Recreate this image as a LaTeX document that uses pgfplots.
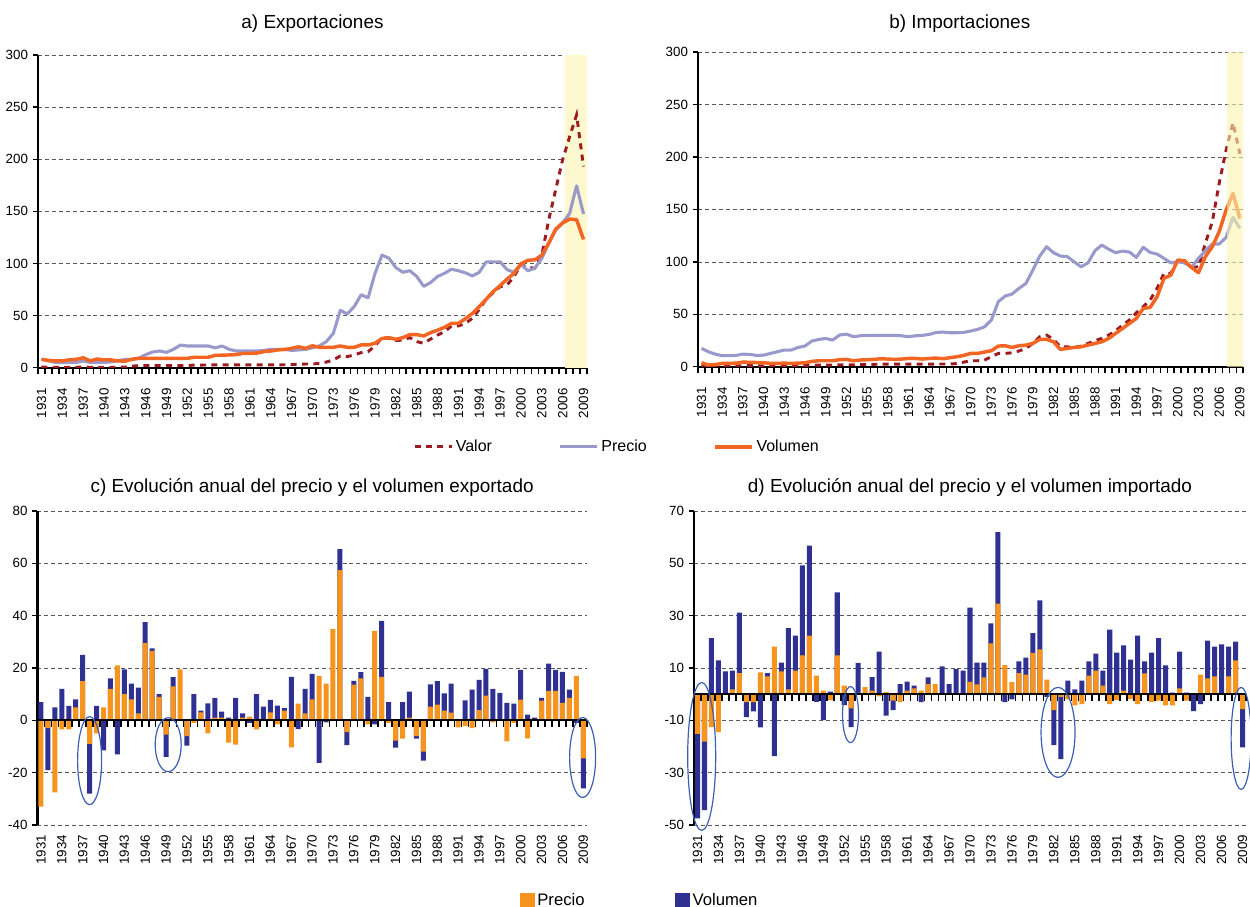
\documentclass[border=0pt]{standalone}
\usepackage{fontspec}
\setmainfont{Liberation Sans}
\usepackage{pgfplots}
\usepackage{pgfplotstable}
\pgfplotsset{compat=1.18}

\definecolor{valor}{RGB}{155,27,32}
\definecolor{precio}{RGB}{153,153,204}
\definecolor{volumen}{RGB}{242,101,34}
\definecolor{barP}{RGB}{247,148,29}
\definecolor{barV}{RGB}{46,49,146}
\definecolor{band}{RGB}{253,248,206}
\definecolor{bandb}{RGB}{252,243,173}
\definecolor{ring}{RGB}{60,95,180}

% a) exportaciones: valor, precio, volumen (indices)
\pgfplotstableread{
year valor precio volumen
1931 0.5 8 8
1932 0.4 6.5 7
1933 0.4 5 6.5
1934 0.4 4.8 6.5
1935 0.4 5 7.5
1936 0.4 5 8
1937 0.5 6.4 9.5
1938 0.4 5 6.5
1939 0.4 5 8.3
1940 0.4 5 7.4
1941 0.4 5.5 7.4
1942 0.4 6.4 6.5
1943 0.5 8 6.2
1944 1.5 8 8
1945 1.8 9 9
1946 2 12.5 9
1947 2 15 9
1948 2 16 9
1949 2 14.7 9
1950 2 17.6 9
1951 2 21.7 9
1952 2 20.8 9
1953 2.5 20.8 10
1954 2.5 20.8 10
1955 2.6 20.8 10
1956 2.6 19 11.8
1957 2.6 20.8 12
1958 2.6 17.6 12.2
1959 2.6 16 12.5
1960 2.6 16 13.7
1961 2.6 16 13.7
1962 2.6 16 14
1963 2.6 16.5 15.4
1964 2.7 17.6 16
1965 2.7 17.6 17
1966 2.8 17.6 17.5
1967 3 16.5 18.5
1968 3.2 17 20
1969 3.5 17.6 18.5
1970 3.6 19 21
1971 4 21 19.5
1972 5.4 25 19.5
1973 7.4 33 19.5
1974 11.2 55 20.8
1975 10.6 51.5 19.5
1976 12.2 58.6 19.5
1977 14.4 70 21.8
1978 15.4 67 21.8
1979 20.8 90.5 23.4
1980 28.8 108 28
1981 28.2 105 28.8
1982 26 96 27.2
1983 26.5 91.5 28.8
1984 28.8 93 31.7
1985 25 87.5 31.7
1986 23.4 78 30.4
1987 27.5 81.7 33.6
1988 31.3 87.5 36
1989 34.5 90.5 38.7
1990 40 94.5 42.5
1991 40 93 42.5
1992 42.5 91 47
1993 47.3 88 52
1994 56 91.5 58.6
1995 65.7 101.5 65.7
1996 72 101.5 73
1997 77.7 101.5 78.8
1998 79.3 94 85
1999 87.5 91.5 90.5
2000 99 99 99.7
2001 96 93 103
2002 95.5 95.5 103.5
2003 108 105 108
2004 142 119.5 119.5
2005 171 132 133
2006 199.7 139 138.8
2007 221.6 148 142.6
2008 242.5 174.5 142
2009 193 147.5 123
}\expA

% b) importaciones
\pgfplotstableread{
year valor precio volumen
1931 1 17.5 3.8
1932 0.8 14.3 1.6
1933 0.7 12 2
1934 0.8 10.5 3.2
1935 0.8 10.5 3.2
1936 0.8 10.8 3.4
1937 1 12 4.4
1938 1 11.7 4.2
1939 0.9 10.8 4
1940 0.9 11 3.8
1941 0.9 12.7 3.2
1942 0.9 14.3 3.2
1943 1 15.9 3.4
1944 1 15.9 3.2
1945 1 18.4 3.4
1946 1.2 19.7 3.8
1947 1.6 24.5 5.1
1948 1.6 26 5.7
1949 1.6 27 5.7
1950 1.6 25.4 5.7
1951 1.8 30.2 6.7
1952 2 31.1 7
1953 1.8 28.6 5.7
1954 2 29.5 6.4
1955 2.2 29.9 6.7
1956 2.3 29.9 7
1957 2.5 29.9 7.6
1958 2.5 29.9 7.3
1959 2.5 29.9 7
1960 2.5 29.5 7.3
1961 2.5 28.6 7.9
1962 2.5 29.5 7.9
1963 2.5 29.9 7.3
1964 2.5 30.8 7.9
1965 2.6 32.7 8.3
1966 2.6 33 7.6
1967 2.6 32.4 8.6
1968 3 32.4 9.5
1969 4.4 32.7 10.8
1970 5.7 34 12.7
1971 5.7 35.6 12.7
1972 6.4 38 14
1973 9.5 44.5 15.3
1974 12.7 62 19.7
1975 12.7 67.4 20
1976 13.3 69.3 18.4
1977 15 74.7 20
1978 17.5 79.4 20.6
1979 22.2 92 22.2
1980 28.6 105.5 26
1981 30.2 114.4 26
1982 26 108.7 23.8
1983 19 105.5 16.5
1984 19 105 17.5
1985 18.4 100 18.4
1986 19.7 95.3 19
1987 22.2 99 20.6
1988 24.8 110.6 22.2
1989 27 116 23.8
1990 30.2 112 27
1991 34.3 108.7 31.8
1992 39.7 110.3 36.5
1993 44.5 109.3 41.3
1994 51.5 104.2 46
1995 57.2 113.8 55.6
1996 63.6 109 56.6
1997 74.7 107.4 66.7
1998 89 103.3 84.2
1999 89 99 87.4
2000 101.7 100 101.7
2001 100 99 101
2002 94.7 94.7 94.7
2003 95.3 103.3 89.6
2004 117.6 110.6 104.9
2005 138.2 117 114.4
2006 174.8 117 128.7
2007 206.5 123.3 149.3
2008 232.6 142.4 165.2
2009 203 132 141.4
}\expB

% c) variacion anual exportaciones: precio y extremo de la barra azul
\pgfplotstableread{
year precio vol
1931 -33 7
1932 -3 -19
1933 -27.5 5
1934 -3.5 12
1935 -3.5 5.5
1936 5 8
1937 15 25
1938 -9 -28
1939 -5 5.5
1940 5 -11.5
1941 12 16
1942 21 -13
1943 10 19.5
1944 8 14
1945 2.7 12.5
1946 29.5 37.5
1947 26.5 27.5
1948 9 10
1949 -5.5 -14
1950 13 16.5
1951 19.5 0
1952 -6 -9.7
1953 -1 10
1954 3 3.7
1955 -5 6.5
1956 1 8.6
1957 1 3.3
1958 -8.5 1
1959 -9.3 8.6
1960 1 2.7
1961 1.4 -1
1962 -3.5 10
1963 0 5.2
1964 3 7.8
1965 -1.5 5.6
1966 3.7 4.7
1967 -10.3 16.6
1968 6.4 -3.4
1969 2.7 12
1970 8 17.8
1971 17 -16.3
1972 14 -0.8
1973 35 0
1974 57.4 65.4
1975 -4.5 -9.5
1976 13.6 15.1
1977 16 18.4
1978 -1.5 9
1979 34.2 -1.5
1980 16.6 38
1981 -1 7
1982 -7.8 -10.4
1983 -7 7
1984 1 11
1985 -6 -7
1986 -12 -15.4
1987 5.2 13.7
1988 6 15
1989 3.7 10.3
1990 2.9 14
1991 -2.7 0
1992 -2.2 7.6
1993 -3 11.7
1994 3.9 15.5
1995 9.4 19.7
1996 -0.8 12
1997 0 10.5
1998 -8 6.7
1999 -1 6.4
2000 7.9 19.3
2001 -6.9 2.2
2002 0 1
2003 7.5 8.6
2004 11.3 21.7
2005 11.3 19.3
2006 6.7 18.5
2007 8.6 11.7
2008 17 -1
2009 -14.5 -26
}\expC

% d) variacion anual importaciones
\pgfplotstableread{
year precio vol
1931 -15.2 -47.5
1932 -18.1 -44.3
1933 -12.6 21.4
1934 -14.5 12.9
1935 0 8.7
1936 1.8 9
1937 8 31.2
1938 -3 -8.8
1939 -3 -6.6
1940 8.3 -12.7
1941 6.8 8
1942 18.2 -23.7
1943 8.7 12.1
1944 1.8 25.2
1945 9 22.4
1946 14.8 49.2
1947 22.4 56.8
1948 7.1 -2.9
1949 1.4 -9.9
1950 -2.3 1
1951 14.8 38.9
1952 3.3 -4.2
1953 -5.4 -12.6
1954 0.5 12
1955 2.7 0
1956 1.4 6.5
1957 -0.8 16.3
1958 0.8 -8.2
1959 -2.5 -6.1
1960 -3 3.8
1961 1.4 4.8
1962 2.2 3.3
1963 1.4 -3
1964 3.8 6.4
1965 3.8 0
1966 0 10.6
1967 0 3.8
1968 0 9.6
1969 0 9
1970 4.7 33.1
1971 3.7 12.1
1972 6.4 12.1
1973 19.4 27.1
1974 34.6 61.9
1975 11.1 -3
1976 4.6 -2
1977 8 12.5
1978 7.5 14
1979 15.8 23.3
1980 17.1 35.8
1981 5.6 -1
1982 -6.1 -19.5
1983 -1 -24.8
1984 -2 5.2
1985 -4.3 1.8
1986 -3.8 5.2
1987 7.1 12.5
1988 9 15.5
1989 3.3 9
1990 -3.8 24.7
1991 -2.3 15.9
1992 1.4 18.6
1993 -1.9 13.2
1994 -3.8 22.4
1995 7.9 12.5
1996 -3 15.9
1997 -2.5 21.4
1998 -4.3 11
1999 -4.3 0.6
2000 2.2 16.3
2001 -2.5 0.6
2002 0 -6.5
2003 7.5 -3.8
2004 6 20.5
2005 6.8 18.2
2006 0 19
2007 6.8 18.2
2008 12.9 20.1
2009 -5.7 -20.3
}\expD

\pgfplotsset{
  base/.style={
    scale only axis, xmin=1930.5, xmax=2009.5,
    xtick={1931,1934,...,2009},
    /pgf/number format/assume math mode=true,
    /pgf/number format/set thousands separator={},
    x tick label style={rotate=90, anchor=east, font=\fontsize{10}{10}\selectfont},
    y tick label style={font=\fontsize{10}{10}\selectfont},
    ymajorgrids,
    grid style={black!65, dash pattern=on 3pt off 2.2pt, line width=0.5pt},
    axis line style={line width=1.6pt, black},
    tick align=outside, major tick length=4pt,
    major x tick style={draw=none},
    y tick style={black, line width=1pt},
    title style={font=\fontsize{14.2}{14.2}\selectfont, anchor=center},
  },
  lines/.style={base, axis x line*=bottom, axis y line*=left,
    ymin=0, ymax=300, ytick={0,50,...,300},
    minor xtick={1930.5,1931.5,...,2009.5}, minor tick length=5pt,
    minor x tick style={black, line width=1.2pt},
    x tick label style={xshift=-8pt}},
  bars/.style={base, axis x line*=bottom, axis y line*=left,
    x axis line style={draw=none}, clip=false},
  vbar/.style={ybar, bar shift=0pt, bar width=0.72, draw=none, forget plot},
}

\begin{document}
\begin{tikzpicture}
\useasboundingbox (0,0) rectangle (937.5pt,680.25pt);

% a) Exportaciones
\begin{axis}[lines, at={(28.5pt,404.5pt)}, anchor=south west,
  width=411.75pt, height=234.5pt,
  title={a) Exportaciones}, title style={at={(0.5,1)}, yshift=17.25pt},
  legend style={at={(0.683,-0.2536)}, anchor=west, draw=none, fill=none,
    font=\fontsize{12}{12}\selectfont, legend columns=3, inner sep=0pt,
    /tikz/every even column/.append style={column sep=48pt}},
  legend cell align=left,
  legend image code/.code={\draw[#1] (0pt,0pt) -- (27.75pt,0pt);}]
\fill[band] (axis cs:2006.3,0) rectangle (axis cs:2009.5,300);
\addplot[valor, line width=2.2pt, dash pattern=on 4.5pt off 4pt] table[x=year,y=valor]{\expA};
\addlegendentry{Valor}
\addplot[precio, line width=2.3pt, line join=round] table[x=year,y=precio]{\expA};
\addlegendentry{Precio}
\addplot[volumen, line width=2.6pt, line join=round] table[x=year,y=volumen]{\expA};
\addlegendentry{Volumen}
\end{axis}

% b) Importaciones
\begin{axis}[lines, at={(523.5pt,405.2pt)}, anchor=south west,
  width=409pt, height=236pt,
  title={b) Importaciones}, title style={at={(0.48,1)}, yshift=15pt}]
\addplot[valor, line width=2.2pt, dash pattern=on 4.5pt off 4pt] table[x=year,y=valor]{\expB};
\addplot[precio, line width=2.3pt, line join=round] table[x=year,y=precio]{\expB};
\addplot[volumen, line width=2.6pt, line join=round] table[x=year,y=volumen]{\expB};
\fill[bandb, opacity=0.6] (axis cs:2007.1,0) rectangle (axis cs:2009.5,300);
\end{axis}

% c) Evolucion anual exportaciones
\begin{axis}[bars, at={(28.1pt,61.5pt)}, anchor=south west,
  width=412pt, height=235.5pt, ymin=-40, ymax=80, ytick={-40,-20,...,80},
  title={c) Evolución anual del precio y el volumen exportado},
  title style={at={(0.5,1)}, yshift=12pt},
  legend style={at={(0.878,-0.239)}, anchor=west, draw=none, fill=none,
    font=\fontsize{12.5}{12.5}\selectfont, legend columns=2, inner sep=0pt,
    /tikz/every even column/.append style={column sep=66pt}},
  legend cell align=left,
  legend image code/.code={\fill[#1] (0pt,-5.5pt) rectangle (11pt,5.5pt);}]
\addplot[vbar, fill=barV] table[x=year,y=vol]{\expC};
\addplot[vbar, fill=barP] table[x=year,y=precio]{\expC};
\draw[black, line width=1.6pt] (axis cs:1930.5,0) -- (axis cs:2009.5,0);
\pgfplotsinvokeforeach{1930.5,1931.5,...,2009.5}{
  \draw[black, line width=1.2pt] (axis cs:#1,0) -- ++(0pt,-5pt);}
\draw[ring, line width=0.9pt] (axis cs:1938,-15.4) ellipse [x radius=9pt, y radius=33pt];
\draw[ring, line width=0.9pt] (axis cs:1949.3,-9.3) ellipse [x radius=9.75pt, y radius=20.25pt];
\draw[ring, line width=0.9pt] (axis cs:2008.9,-14.2) ellipse [x radius=9.75pt, y radius=30pt];
\addlegendimage{fill=barP, draw=none}
\addlegendentry{Precio}
\addlegendimage{fill=barV, draw=none}
\addlegendentry{Volumen}
\end{axis}

% d) Evolucion anual importaciones
\begin{axis}[bars, at={(520.5pt,61.5pt)}, anchor=south west,
  width=414pt, height=235.5pt, ymin=-50, ymax=70, ytick={-50,-30,...,70},
  title={d) Evolución anual del precio y el volumen importado},
  title style={at={(0.5,1)}, yshift=12pt}]
\addplot[vbar, fill=barV] table[x=year,y=vol]{\expD};
\addplot[vbar, fill=barP] table[x=year,y=precio]{\expD};
\draw[black, line width=1.6pt] (axis cs:1930.5,0) -- (axis cs:2009.5,0);
\pgfplotsinvokeforeach{1930.5,1931.5,...,2009.5}{
  \draw[black, line width=1.2pt] (axis cs:#1,0) -- ++(0pt,-5pt);}
\draw[ring, line width=0.9pt] (axis cs:1931.6,-23.8) ellipse [x radius=10.5pt, y radius=55.5pt];
\draw[ring, line width=0.9pt] (axis cs:1952.9,-7.8) ellipse [x radius=6pt, y radius=21pt];
\draw[ring, line width=0.9pt] (axis cs:1982.6,-14.6) ellipse [x radius=12.75pt, y radius=33.75pt];
\draw[ring, line width=0.9pt] (axis cs:2008.8,-16.9) ellipse [x radius=7.5pt, y radius=38.25pt];
\end{axis}
\end{tikzpicture}
\end{document}
